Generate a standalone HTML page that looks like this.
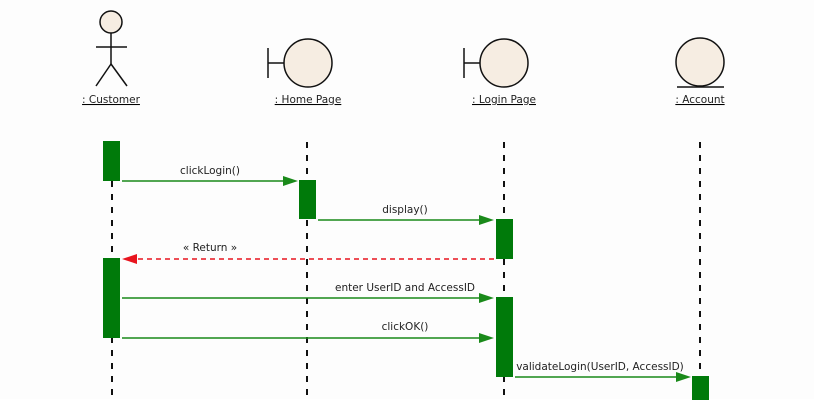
<!DOCTYPE html>
<html><head><meta charset="utf-8"><style>
html,body{margin:0;padding:0;background:#fff;}
svg{display:block;}
text{font-family:"DejaVu Sans","Liberation Sans",sans-serif;font-size:10.5px;fill:#222;}
</style></head><body>
<svg width="814" height="414" viewBox="0 0 814 414" xmlns="http://www.w3.org/2000/svg">
<rect width="814" height="414" fill="#fff"/>
<rect x="0" y="0" width="814" height="399" fill="#fdfdfd"/>
<g stroke="#111" stroke-width="1.5" fill="none">
<circle cx="111" cy="22" r="11" fill="#f6ede2"/>
<line x1="111" y1="33" x2="111" y2="64"/>
<line x1="96" y1="47" x2="127" y2="47"/>
<line x1="111" y1="64" x2="96" y2="86"/>
<line x1="111" y1="64" x2="127" y2="86"/>
<line x1="268" y1="48" x2="268" y2="78"/>
<line x1="268" y1="63" x2="284" y2="63"/>
<circle cx="308" cy="63" r="24" fill="#f6ede2"/>
<line x1="464" y1="48" x2="464" y2="78"/>
<line x1="464" y1="63" x2="480" y2="63"/>
<circle cx="504" cy="63" r="24" fill="#f6ede2"/>
<circle cx="700" cy="62" r="24" fill="#f6ede2"/>
<line x1="677" y1="87" x2="724" y2="87"/>
</g>
<g text-anchor="middle" text-decoration="underline">
<text x="111" y="103">: Customer</text>
<text x="308" y="103">: Home Page</text>
<text x="504" y="103">: Login Page</text>
<text x="700" y="103">: Account</text>
</g>
<g stroke="#111" stroke-width="2" stroke-dasharray="6,7">
<line x1="112" y1="142" x2="112" y2="400"/>
<line x1="307" y1="142" x2="307" y2="400"/>
<line x1="504" y1="142" x2="504" y2="400"/>
<line x1="700" y1="142" x2="700" y2="400"/>
</g>
<g fill="#007a0a">
<rect x="103" y="141" width="17" height="40"/>
<rect x="299" y="180" width="17" height="39"/>
<rect x="496" y="219" width="17" height="40"/>
<rect x="103" y="258" width="17" height="80"/>
<rect x="496" y="297" width="17" height="80"/>
<rect x="692" y="376" width="17" height="24"/>
</g>
<g stroke="#1a8a1a" stroke-width="1.5">
<line x1="122" y1="181" x2="288" y2="181"/>
<line x1="318" y1="220" x2="484" y2="220"/>
<line x1="122" y1="298" x2="484" y2="298"/>
<line x1="122" y1="338" x2="484" y2="338"/>
<line x1="515" y1="377" x2="680" y2="377"/>
</g>
<g fill="#1a8a1a">
<polygon points="298,181 283,176 283,186"/>
<polygon points="494,220 479,215 479,225"/>
<polygon points="494,298 479,293 479,303"/>
<polygon points="494,338 479,333 479,343"/>
<polygon points="691,377 676,372 676,382"/>
</g>
<line x1="494" y1="259" x2="134" y2="259" stroke="#e8141e" stroke-width="1.5" stroke-dasharray="5,4"/>
<polygon points="122,259 137,254 137,264" fill="#e8141e"/>
<g text-anchor="middle">
<text x="210" y="174">clickLogin()</text>
<text x="405" y="213">display()</text>
<text x="210" y="251">« Return »</text>
<text x="405" y="291">enter UserID and AccessID</text>
<text x="405" y="330">clickOK()</text>
<text x="600" y="370">validateLogin(UserID, AccessID)</text>
</g>
</svg>
</body></html>
